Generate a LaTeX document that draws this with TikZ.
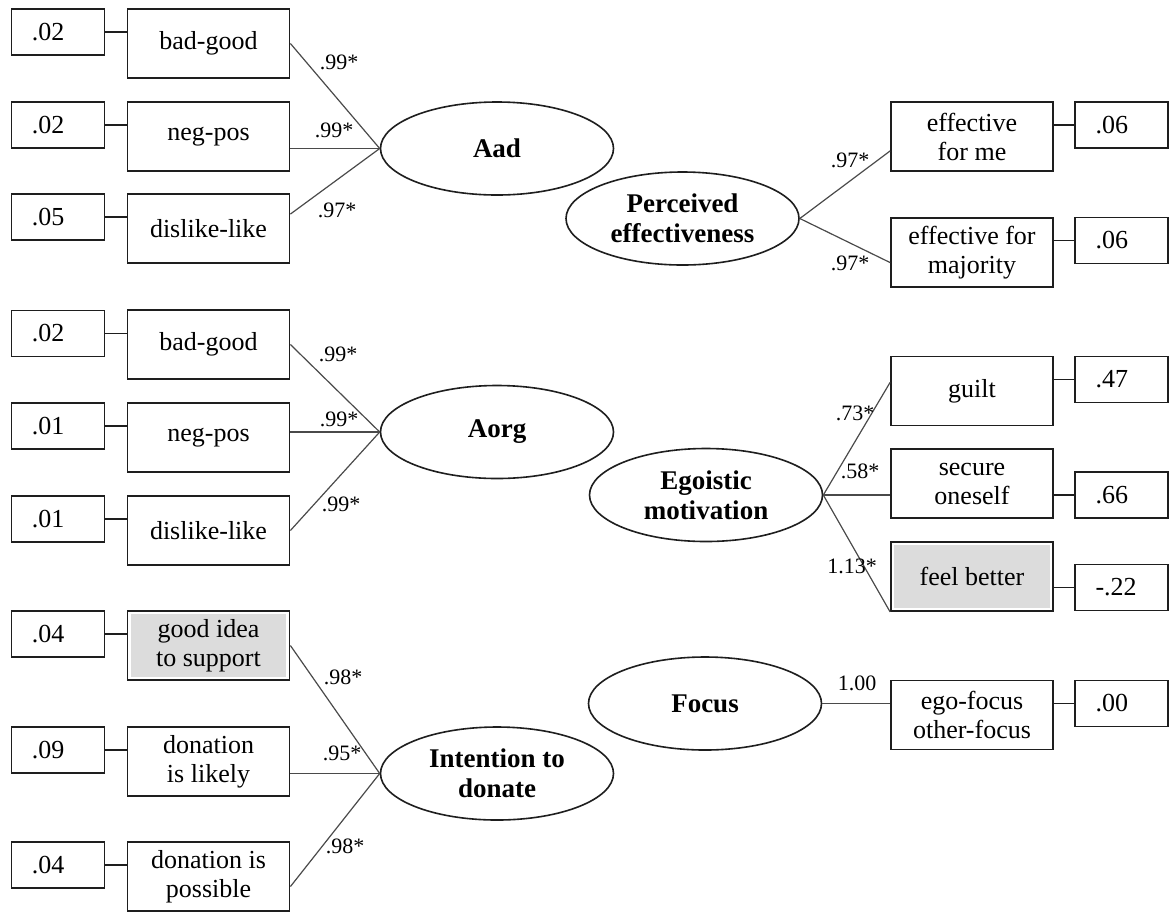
\documentclass[tikz,border=0pt]{standalone}
\usepackage{fontspec}
\setmainfont{Liberation Serif}
\usetikzlibrary{calc,shapes.geometric}
\usepackage{xcolor}
\definecolor{Ink}{HTML}{1E1E1E}
\definecolor{Wire}{HTML}{4A4A4A}
\definecolor{Shade}{HTML}{DCDCDC}
\tikzset{
 indbox/.style={draw=Ink, line width=0.9pt, fill=white, minimum width=81pt, minimum height=34.5pt, inner sep=0pt, align=center, font=\fontsize{13}{14.5}\selectfont},
 shadebox/.style={indbox, path picture={\fill[Shade] ([shift={(1.6pt,-1.6pt)}]path picture bounding box.north west) rectangle ([shift={(-1.6pt,1.6pt)}]path picture bounding box.south east);}},
 errbox/.style={draw=Ink, line width=0.9pt, fill=white, minimum width=46.5pt, minimum height=23pt, inner sep=0pt, text width=26pt, align=left, font=\fontsize{13}{14.5}\selectfont},
 latent/.style={ellipse, draw=Ink, line width=0.8pt, minimum width=116.5pt, minimum height=46.5pt, inner sep=0pt, align=center, font=\fontsize{13.5}{15}\selectfont\bfseries},
 loading/.style={draw=Wire, line width=0.6pt},
 link/.style={draw=Ink, line width=0.9pt},
 coef/.style={inner sep=0pt, font=\fontsize{11}{12}\selectfont}
}

\begin{document}
\begin{tikzpicture}[x=0.5pt,y=-0.5pt]
\useasboundingbox[fill=white] (0,0) rectangle (1170,911);

% Aad
\node[errbox] (ad-e1) at (58,32) {.02};
\node[indbox] (ad-i1) at (208.5,43.5) {bad-good};
\node[errbox] (ad-e2) at (58,125) {.02};
\node[indbox] (ad-i2) at (208.5,136.5) {neg-pos};
\node[errbox] (ad-e3) at (58,217) {.05};
\node[indbox] (ad-i3) at (208.5,228.5) {dislike-like};
\node[latent] (aad) at (497,148.5) {Aad};

% Aorg
\node[errbox] (og-e1) at (58,333.5) {.02};
\node[indbox] (og-i1) at (208.5,344.5) {bad-good};
\node[errbox] (og-e2) at (58,426) {.01};
\node[indbox] (og-i2) at (208.5,437.5) {neg-pos};
\node[errbox] (og-e3) at (58,519) {.01};
\node[indbox] (og-i3) at (208.5,530.5) {dislike-like};
\node[latent] (aorg) at (497,432) {Aorg};

% Intention to donate
\node[errbox] (in-e1) at (58,634) {.04};
\node[shadebox] (in-i1) at (208.5,645.5) {good idea\\to support};
\node[errbox] (in-e2) at (58,750) {.09};
\node[indbox] (in-i2) at (208.5,761.5) {donation\\is likely};
\node[errbox] (in-e3) at (58,865) {.04};
\node[indbox] (in-i3) at (208.5,876.5) {donation is\\possible};
\node[latent] (intent) at (497,773.5) {Intention to\\donate};

% Perceived effectiveness
\node[latent] (peff) at (682.5,218.5) {Perceived\\effectiveness};
\node[indbox] (pe-i1) at (972,136.5) {effective\\for me};
\node[errbox] (pe-e1) at (1121.5,125) {.06};
\node[indbox] (pe-i2) at (972,252.5) {effective for\\majority};
\node[errbox] (pe-e2) at (1121.5,240.5) {.06};

% Egoistic motivation
\node[latent] (egom) at (706,495) {Egoistic\\motivation};
\node[indbox] (em-i1) at (972,391) {guilt};
\node[errbox] (em-e1) at (1121.5,379.5) {.47};
\node[indbox] (em-i2) at (972,483.5) {secure\\oneself};
\node[errbox] (em-e2) at (1121.5,495) {.66};
\node[shadebox] (em-i3) at (972,576.5) {feel better};
\node[errbox] (em-e3) at (1121.5,587.5) {-.22};

% Focus
\node[latent] (focus) at (705,703.5) {Focus};
\node[indbox] (fo-i1) at (972,715) {ego-focus\\other-focus};
\node[errbox] (fo-e1) at (1121.5,703.5) {.00};

\foreach \e/\i in {ad-e1/ad-i1,ad-e2/ad-i2,ad-e3/ad-i3,og-e1/og-i1,og-e2/og-i2,og-e3/og-i3,in-e1/in-i1,in-e2/in-i2,in-e3/in-i3}
  \draw[link] (\e.east) -- (\e.east -| \i.west);
\foreach \e/\i in {pe-e1/pe-i1,pe-e2/pe-i2,em-e1/em-i1,em-e2/em-i2,em-e3/em-i3,fo-e1/fo-i1}
  \draw[link] (\e.west) -- (\e.west -| \i.east);

\draw[loading] (ad-i1.east) -- (aad.west);
\draw[loading] (ad-i2.east |- aad.west) -- (aad.west);
\draw[loading] (ad-i3.10) -- (aad.west);
\draw[loading] (og-i1.east) -- (aorg.west);
\draw[loading] (og-i2.east |- aorg.west) -- (aorg.west);
\draw[loading] (og-i3.east) -- (aorg.west);
\draw[loading] (in-i1.east) -- (intent.west);
\draw[loading] (in-i2.east |- intent.west) -- (intent.west);
\draw[loading] (in-i3.353) -- (intent.west);
\draw[loading] (peff.east) -- (pe-i1.190);
\draw[loading] (peff.east) -- (pe-i2.187);
\draw[loading] (egom.east) -- (em-i1.174);
\draw[loading] (egom.east) -- (egom.east -| em-i2.west);
\draw[loading] (egom.east) -- (em-i3.south west);
\draw[loading] (focus.east) -- (focus.east -| fo-i1.west);

\node[coef] (w-ad1) at (339,62) {.99*};
\node[coef] (w-ad2) at (334,130) {.99*};
\node[coef] (w-ad3) at (337,210) {.97*};
\node[coef] (w-og1) at (338,354) {.99*};
\node[coef] (w-og2) at (339,419) {.99*};
\node[coef] (w-og3) at (341,504) {.99*};
\node[coef] (w-in1) at (343,677) {.98*};
\node[coef] (w-in2) at (342,753) {.95*};
\node[coef] (w-in3) at (345,846) {.98*};
\node[coef] (w-pe1) at (850,160) {.97*};
\node[coef] (w-pe2) at (850,263) {.97*};
\node[coef] (w-em1) at (855,413) {.73*};
\node[coef] (w-em2) at (860,471) {.58*};
\node[coef] (w-em3) at (852,566) {1.13*};
\node[coef] (w-fo1) at (857,683) {1.00};
\end{tikzpicture}
\end{document}
